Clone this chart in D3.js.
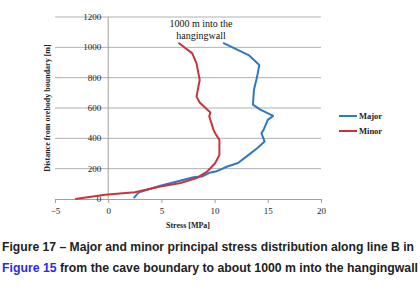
<!DOCTYPE html>
<html>
<head>
<meta charset="utf-8">
<script src="https://cdn.jsdelivr.net/npm/d3@7"></script>
<style>
  body { margin: 0; background: #fff; }
  svg { display: block; }
</style>
</head>
<body>
<div id="chart"></div>
<script>
// values: [stress MPa, distance m]
const majorStress = [10.8, 13.2, 14.2, 14.0, 13.7, 13.6, 14.3, 15.5, 15.0, 14.6, 14.4, 14.7, 14.0, 13.2, 12.2, 11.2, 10.1, 9.6, 8.8, 8.0, 6.1, 4.9, 2.9, 2.6, 2.4];
const majorDist   = [1030, 949, 884, 807, 720, 622, 589, 548, 522, 456, 434, 379, 335, 291, 237, 214, 181, 175, 148, 144, 109, 87, 45, 22, 6];
const minorStress = [6.6, 7.9, 8.3, 8.6, 8.3, 8.6, 9.6, 9.5, 9.7, 9.9, 10.05, 10.45, 10.45, 10.05, 9.3, 8.3, 6.8, 4.9, 2.5, -0.3, -3.1];
const minorDist   = [1030, 960, 894, 785, 675, 636, 570, 545, 500, 456, 434, 390, 290, 236, 181, 138, 105, 82, 45, 28, 0];
const xTicks = [-5, 0, 5, 10, 15, 20];
const yTicks = [0, 200, 400, 600, 800, 1000, 1200];
const seriesNames = ["Major", "Minor"];
const seriesColors = ["#2f78c2", "#c9343c"];

let width = 420;
let height = 295;

const svg = d3.select("#chart")
    .append("svg")
    .attr("width", width)
    .attr("height", height);

const x = d3.scaleLinear().domain([-5, 20]).range([55, 321]);
const y = d3.scaleLinear().domain([0, 1200]).range([199, 17]);

// gridlines
svg.append("g")
    .selectAll("line")
    .data(yTicks.slice(1))
    .join("line")
    .attr("x1", x(-5)).attr("x2", x(20))
    .attr("y1", d => y(d)).attr("y2", d => y(d))
    .attr("stroke", "#b0b0b0")
    .attr("stroke-width", 1);

// bottom axis
const xAxis = svg.append("g")
    .attr("transform", `translate(0,${y(0)})`)
    .call(d3.axisBottom(x).tickValues(xTicks).tickSize(4).tickSizeOuter(0).tickFormat(d3.format("d")));
xAxis.select(".domain").attr("stroke", "#a0a0a0");
xAxis.selectAll(".tick line").attr("stroke", "#a0a0a0");
xAxis.selectAll("text")
    .attr("font-family", "Liberation Serif")
    .attr("font-size", 9)
    .attr("fill", "#222")
    .attr("dy", "0.9em");

// vertical axis at x = 0
svg.append("line")
    .attr("x1", x(0)).attr("x2", x(0))
    .attr("y1", y(1200)).attr("y2", y(0))
    .attr("stroke", "#a0a0a0");

svg.append("g")
    .selectAll("text")
    .data(yTicks)
    .join("text")
    .attr("x", x(0) - 7)
    .attr("y", d => y(d))
    .attr("dy", "0.35em")
    .attr("text-anchor", "end")
    .attr("font-family", "Liberation Serif")
    .attr("font-size", 9)
    .attr("fill", "#222")
    .text(d => d);

// lines
const line = d3.line()
    .x(d => x(d[0]))
    .y(d => y(d[1]));

const series = [
    d3.zip(majorStress, majorDist),
    d3.zip(minorStress, minorDist)
];

svg.append("g")
    .selectAll("path")
    .data(series)
    .join("path")
    .attr("d", line)
    .attr("fill", "none")
    .attr("stroke", (d, i) => seriesColors[i])
    .attr("stroke-width", 2)
    .attr("stroke-linejoin", "round");

// axis titles
svg.append("text")
    .attr("x", 188)
    .attr("y", 228)
    .attr("text-anchor", "middle")
    .attr("font-family", "Liberation Serif")
    .attr("font-weight", "bold")
    .attr("font-size", 8)
    .attr("fill", "#222")
    .text("Stress [MPa]");

svg.append("text")
    .attr("transform", "translate(50,108) rotate(-90)")
    .attr("text-anchor", "middle")
    .attr("font-family", "Liberation Serif")
    .attr("font-weight", "bold")
    .attr("font-size", 8)
    .attr("fill", "#222")
    .text("Distance from orebody boundary [m]");

// annotation
svg.append("text")
    .attr("x", 201)
    .attr("y", 27)
    .attr("text-anchor", "middle")
    .attr("font-family", "Liberation Serif")
    .attr("font-size", 10)
    .attr("fill", "#111")
    .text("1000 m into the");
svg.append("text")
    .attr("x", 201)
    .attr("y", 39)
    .attr("text-anchor", "middle")
    .attr("font-family", "Liberation Serif")
    .attr("font-size", 10)
    .attr("fill", "#111")
    .text("hangingwall");

// legend
const legend = svg.append("g")
    .selectAll("g")
    .data(seriesNames)
    .join("g")
    .attr("transform", (d, i) => `translate(339,${116 + i * 15})`);
legend.append("line")
    .attr("x1", 0).attr("x2", 18)
    .attr("stroke", (d, i) => seriesColors[i])
    .attr("stroke-width", 2);
legend.append("text")
    .attr("x", 20)
    .attr("dy", "0.35em")
    .attr("font-family", "Liberation Serif")
    .attr("font-weight", "bold")
    .attr("font-size", 8.5)
    .attr("fill", "#222")
    .text(d => d);

// caption
const cap1 = svg.append("text")
    .attr("x", 2)
    .attr("y", 251)
    .attr("font-family", "Liberation Sans")
    .attr("font-weight", "bold")
    .attr("font-size", 12)
    .attr("fill", "#222")
    .attr("textLength", 412)
    .attr("lengthAdjust", "spacingAndGlyphs")
    .text("Figure 17 \u2013 Major and minor principal stress distribution along line B in");

const cap2 = svg.append("text")
    .attr("x", 2)
    .attr("y", 272)
    .attr("font-family", "Liberation Sans")
    .attr("font-weight", "bold")
    .attr("font-size", 12)
    .attr("fill", "#222")
    .attr("textLength", 416)
    .attr("lengthAdjust", "spacingAndGlyphs");
cap2.append("tspan").attr("fill", "#2a2aee").text("Figure 15");
cap2.append("tspan").text(" from the cave boundary to about 1000 m into the hangingwall");
</script>
</body>
</html>
